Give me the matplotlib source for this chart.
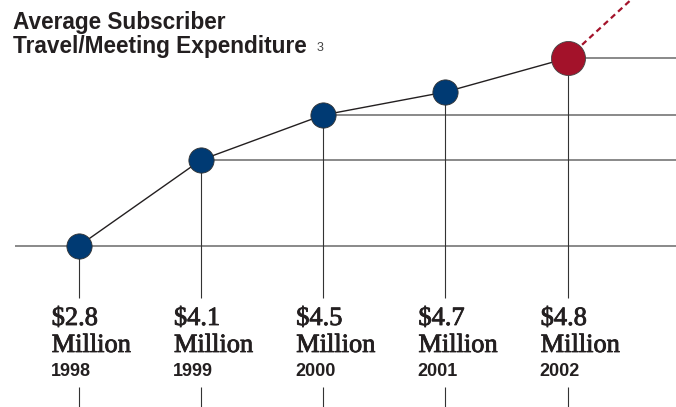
import matplotlib
matplotlib.use("Agg")
import matplotlib.pyplot as plt
import matplotlib.patheffects as pe

# ---- data ----
years = [1998, 1999, 2000, 2001, 2002]
amounts = [2.8, 4.1, 4.5, 4.7, 4.8]          # $ million
levels = [0, 86, 131, 154, 188]               # plotted height of each dot above the baseline (as drawn)
year_labels = ["1998", "1999", "2000", "2001", "2002"]
guide_years = [1999, 2000, 2002]              # years that carry a horizontal guide line to the right
unit_label = "Million"
title_lines = ["Average Subscriber", "Travel/Meeting Expenditure"]
footnote = "3"

# ---- styling ----
NAVY = "#003a73"
RED = "#a3122a"
INK = "#231f20"
GRID = "#6a6a6a"
medium = [pe.withStroke(linewidth=0.6, foreground=INK)]

fig = plt.figure(figsize=(6.76, 4.07), dpi=100)
ax = fig.add_axes([0, 0, 1, 1])
ax.set_xlim(1997.356, 2002.886)
ax.set_ylim(-161, 246)
ax.axis("off")

x0, x1 = ax.get_xlim()

# baseline through the first point
ax.hlines(levels[0], x0 + 0.12, x1, color=GRID, lw=1.1, zorder=1)
# guide lines to the right of selected points
for yr, lv in zip(years, levels):
    if yr in guide_years:
        ax.hlines(lv, yr, x1, color=GRID, lw=1.1, zorder=1)

# vertical drops from each dot and the small ticks at the bottom
ax.vlines(years, -52, levels, color="#333333", lw=0.8, zorder=1)
ax.vlines(years, -161, -141, color="#333333", lw=0.8, zorder=1)

# connecting line
ax.plot(years, levels, color=INK, lw=1.0, zorder=3)

# dashed red extension from last point
ext = 0.7
slope = 112.5
ax.plot([years[-1], years[-1] + ext], [levels[-1], levels[-1] + slope * ext],
        color=RED, lw=1.6, dashes=(2.6, 1.8), zorder=2)

# dots
ax.scatter(years[:-1], levels[:-1], s=330, color=NAVY, edgecolor="#333333",
           linewidth=0.6, zorder=4)
ax.scatter(years[-1:], levels[-1:], s=600, color=RED, edgecolor="#444444",
           linewidth=0.6, zorder=4)

# labels below
for yr, amt, ylab in zip(years, amounts, year_labels):
    ax.annotate(f"${amt}", xy=(yr, -79), xytext=(-27, 0), textcoords="offset pixels",
                ha="left", va="baseline", fontsize=19, family="Liberation Serif",
                color=INK, path_effects=medium)
    ax.annotate(unit_label, xy=(yr, -106), xytext=(-27, 0), textcoords="offset pixels",
                ha="left", va="baseline", fontsize=19, family="Liberation Serif",
                color=INK, path_effects=medium)
    ax.annotate(ylab, xy=(yr, -130), xytext=(-28, 0), textcoords="offset pixels",
                ha="left", va="baseline", fontsize=13, family="Liberation Sans",
                fontweight="bold", color=INK)

# title
W, H = 676, 407
fig.text(13 / W, 1 - 29 / H, title_lines[0], ha="left", va="baseline",
         fontsize=16.3, family="Liberation Sans", fontweight="bold", color=INK)
fig.text(13 / W, 1 - 53 / H, title_lines[1], ha="left", va="baseline",
         fontsize=16.3, family="Liberation Sans", fontweight="bold", color=INK)
fig.text(317 / W, 1 - 51 / H, footnote, ha="left", va="baseline",
         fontsize=9, family="Liberation Sans", color="#444444")

fig.savefig("out.png", dpi=100)
